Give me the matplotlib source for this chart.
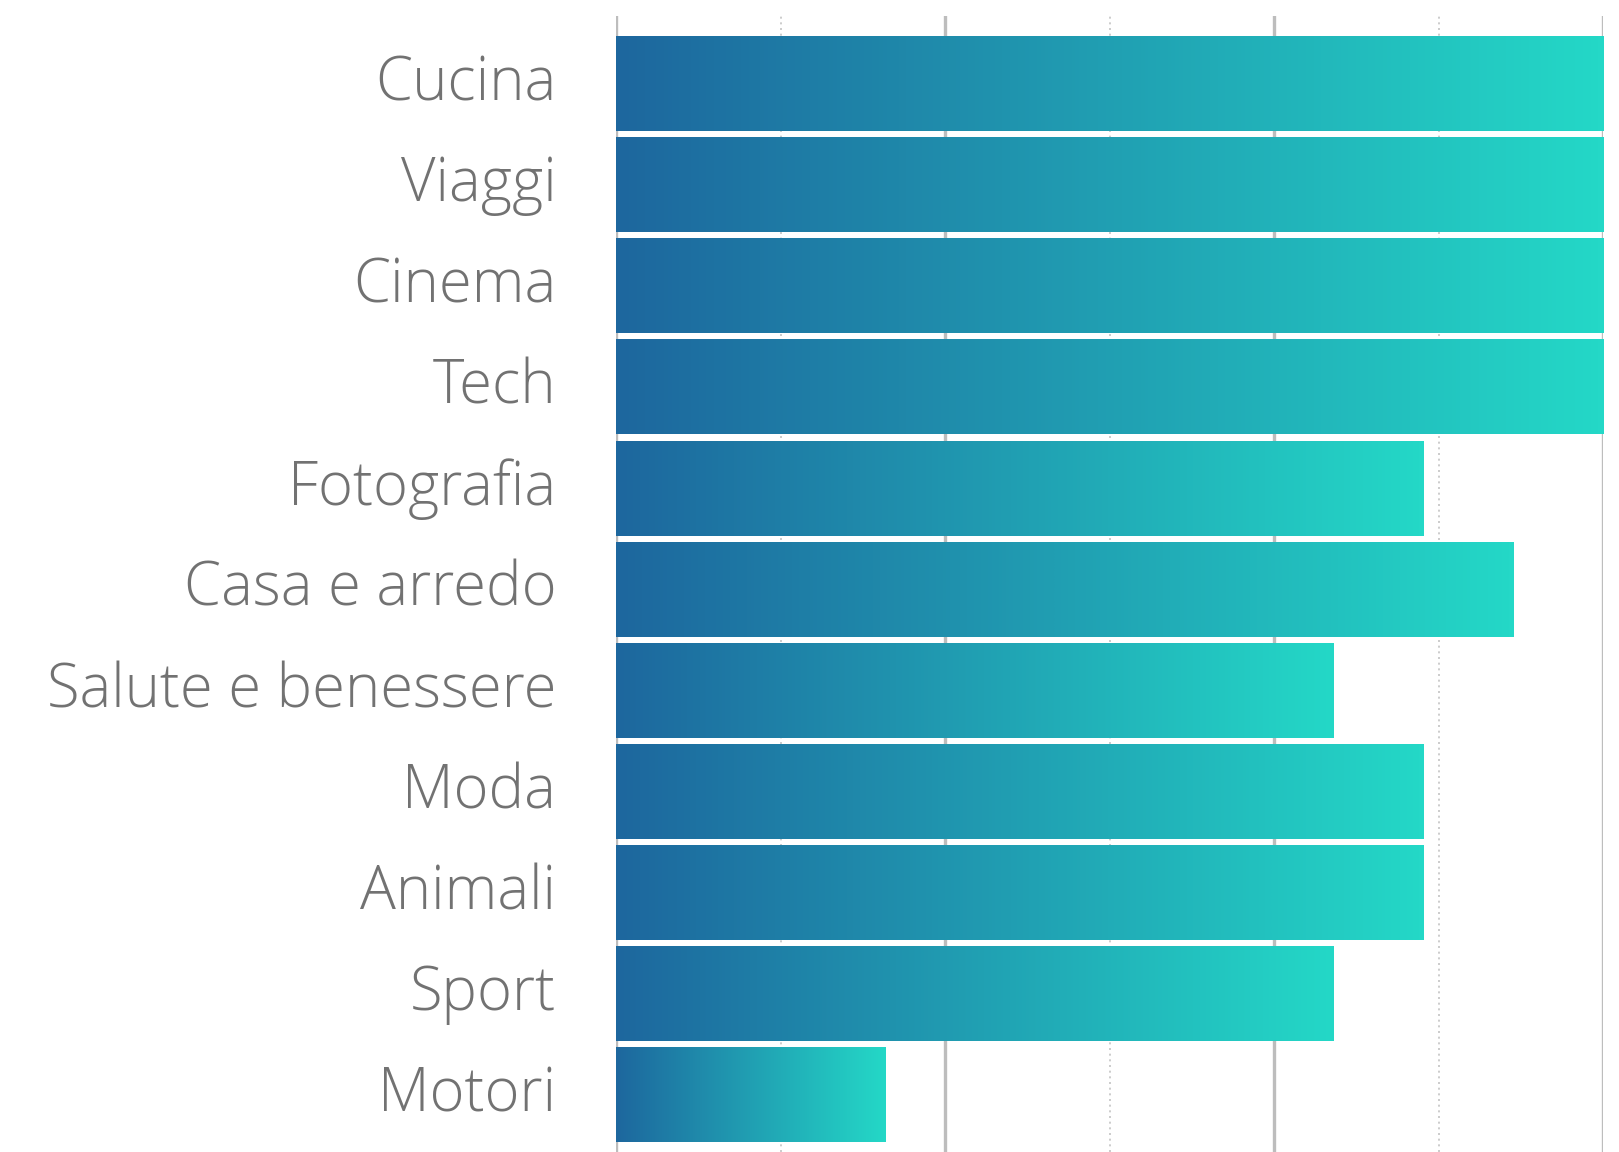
import numpy as np
import matplotlib
matplotlib.use("Agg")
import matplotlib.pyplot as plt
from matplotlib.colors import LinearSegmentedColormap
from matplotlib.transforms import ScaledTranslation

# --- dati ---
categorie = ["Cucina", "Viaggi", "Cinema", "Tech", "Fotografia", "Casa e arredo",
             "Salute e benessere", "Moda", "Animali", "Sport", "Motori"]
valori = [11, 11, 11, 11, 9, 10, 8, 9, 9, 8, 3]
x_max = 11

# --- stile ---
colore_sx = "#1d679e"
colore_dx = "#24d8c7"
colore_testo = "#727272"
cmap = LinearSegmentedColormap.from_list("grad", [colore_sx, colore_dx])
gradiente = np.linspace(0, 1, 256).reshape(1, -1)

fig = plt.figure(figsize=(16.19, 11.52), dpi=100)
ax = fig.add_axes([616 / 1619, 0.0, (1603 - 616) / 1619, 1 - 16 / 1152])

altezza = 0.93
for i, (cat, v) in enumerate(zip(categorie, valori)):
    ax.imshow(gradiente, cmap=cmap, aspect="auto", interpolation="bicubic",
              extent=(0, v, i + altezza / 2, i - altezza / 2), zorder=3)

ax.set_xlim(0, x_max)
ax.set_ylim(10.56, -0.673)

# griglia: linee piene (maggiori) e tratteggiate (minori)
ax.set_xticks(np.linspace(0, x_max, 4))
ax.set_xticks(np.linspace(0, x_max, 7), minor=True)
ax.grid(True, which="major", axis="x", color="#bdbdbd", lw=2.4, zorder=1)
ax.grid(True, which="minor", axis="x", color="#c4c4c4", lw=1.2,
        linestyle=(0, (1.2, 2.2)), zorder=1)
ax.tick_params(axis="x", which="both", length=0, labelbottom=False)

ax.set_yticks(range(len(categorie)))
ax.set_yticklabels(categorie, fontsize=43, color=colore_testo,
                   family="Open Sans", fontweight="light")
ax.tick_params(axis="y", length=0, pad=43)
# etichette leggermente piu' in alto rispetto al centro della barra
sposta = ScaledTranslation(0, 7 / 100, fig.dpi_scale_trans)
for lab in ax.get_yticklabels():
    lab.set_transform(lab.get_transform() + sposta)

for s in ax.spines.values():
    s.set_visible(False)

fig.savefig("out.png", dpi=100, facecolor="white")
